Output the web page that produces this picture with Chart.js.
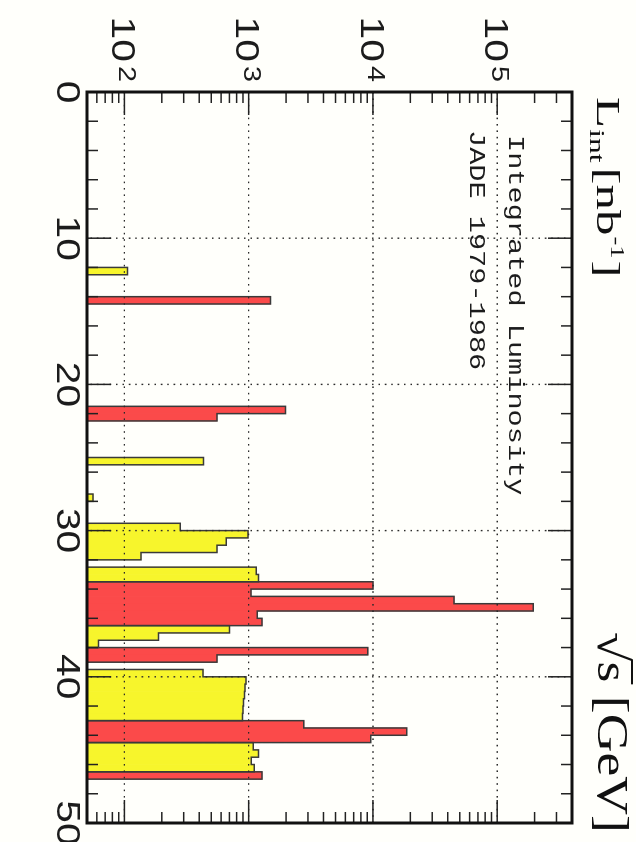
<!DOCTYPE html>
<html>
<head>
<meta charset="utf-8">
<script src="https://cdn.jsdelivr.net/npm/chart.js@4.4.1/dist/chart.umd.min.js"></script>
<style>
  html, body { margin: 0; padding: 0; background: #fffffb; overflow: hidden; }
  /* the histogram is drawn lying on its side: energy runs down the page */
  #turn { position: absolute; left: 0; top: 0; width: 842px; height: 636px;
          transform-origin: 0 0; transform: translate(636px, 0) rotate(90deg); }
</style>
</head>
<body>
<div id="turn"><canvas id="lumiChart" width="842" height="636"></canvas></div>
<script>
//lower edges of the 0.5 GeV energy bins [GeV] and the luminosity in each [nb^-1]
var binWidth = 0.5;
var yellowBins = [12.0, 25.0, 27.5, 29.5, 30.0, 30.5, 31.0, 31.5, 32.5, 33.0, 36.5, 37.0, 37.5,
                  39.5, 40.0, 40.5, 41.0, 41.5, 42.0, 42.5, 44.5, 45.0, 45.5, 46.0];
var yellowLumi = [106, 433, 56, 281, 990, 660, 555, 136, 1150, 1200, 700, 188, 62,
                  430, 950, 935, 925, 910, 900, 890, 1090, 1200, 1050, 1110];
var redBins = [14.0, 21.5, 22.0, 33.5, 34.0, 34.5, 35.0, 35.5, 36.0, 38.0, 38.5, 43.0, 43.5, 44.0, 46.5];
var redLumi = [1500, 1980, 555, 10000, 1045, 45000, 195000, 1170, 1280, 9100, 555, 2780, 18700, 9600, 1280];

//axis ranges and labels
var energyTicks = [0, 10, 20, 30, 40, 50];
var lumiDecades = [2, 3, 4, 5];
var lumiMin = 50;
var lumiMax = 4e5;
var yTitle = ['L', 'int', '[nb', '-1', ']'];
var xTitle = ['\u221A', 's', ' [GeV]'];
var noteLines = ['Integrated Luminosity', 'JADE 1979-1986'];

var yellowFill = '#f7f52c';
var redFill = '#fb4a4a';
var edgeColor = '#3a3a3a';

//bars sit at the middle of each bin
function barPoints(bins, lumi){
   return bins.map(function(b, i){
      return {x: b + binWidth / 2, y: lumi[i]};
   });
}

//step outline around every run of neighbouring bins
function outlinePoints(bins, lumi){
   var pts = [];
   for (var i = 0; i < bins.length; i++) {
      var lo = bins[i];
      var hi = lo + binWidth;
      if (i == 0 || Math.abs(bins[i - 1] + binWidth - lo) > 1e-6) {
         if (i > 0) pts.push({x: lo, y: null});
         pts.push({x: lo, y: lumiMin});
      }
      pts.push({x: lo, y: lumi[i]});
      pts.push({x: hi, y: lumi[i]});
      if (i == bins.length - 1 || Math.abs(bins[i + 1] - hi) > 1e-6) {
         pts.push({x: hi, y: lumiMin});
      }
   }
   return pts;
}

//text squeezed to the wide lettering of the plot, returns its width
function drawStretched(ctx, str, x, y, size, family, sx, align){
   ctx.save();
   ctx.font = size + 'px ' + family;
   var w = ctx.measureText(str).width * sx;
   if (align == 'center') x -= w / 2;
   if (align == 'right') x -= w;
   ctx.translate(x, y);
   ctx.scale(sx, 1);
   ctx.textAlign = 'left';
   ctx.textBaseline = 'alphabetic';
   ctx.fillText(str, 0, 0);
   ctx.restore();
   return w;
}

function line(ctx, x1, y1, x2, y2){
   ctx.beginPath();
   ctx.moveTo(x1, y1);
   ctx.lineTo(x2, y2);
   ctx.stroke();
}

var frameAndLabels = {
   id: 'frameAndLabels',
   afterDatasetsDraw: function(chart){
      var ctx = chart.ctx;
      var a = chart.chartArea;
      var xs = chart.scales.x;
      var ys = chart.scales.y;
      ctx.save();
      //dotted grid at every 10 GeV and every decade
      ctx.strokeStyle = '#2a2a2a';
      ctx.lineWidth = 1.4;
      ctx.setLineDash([1.6, 4.8]);
      energyTicks.forEach(function(e){
         if (e > xs.min && e < xs.max) {
            var px = xs.getPixelForValue(e);
            line(ctx, px, a.top, px, a.bottom);
         }
      });
      lumiDecades.forEach(function(d){
         var py = ys.getPixelForValue(Math.pow(10, d));
         line(ctx, a.left, py, a.right, py);
      });
      ctx.setLineDash([]);
      //inward tick marks on all four sides
      ctx.strokeStyle = '#222';
      ctx.lineWidth = 1.5;
      for (var e = 2; e < 50; e += 2) {
         var px = xs.getPixelForValue(e);
         var len = (e % 10 == 0) ? 24 : 11;
         line(ctx, px, a.bottom, px, a.bottom - len);
         line(ctx, px, a.top, px, a.top + len);
      }
      for (var d = 1; d <= 5; d++) {
         for (var m = 1; m <= 9; m++) {
            var v = m * Math.pow(10, d);
            if (v <= lumiMin || v >= lumiMax) continue;
            var py = ys.getPixelForValue(v);
            var tl = (m == 1) ? 23 : 11;
            line(ctx, a.left, py, a.left + tl, py);
            line(ctx, a.right, py, a.right - tl, py);
         }
      }
      //frame
      ctx.strokeStyle = '#111';
      ctx.lineWidth = 3;
      ctx.strokeRect(a.left, a.top, a.right - a.left, a.bottom - a.top);
      ctx.restore();
   },
   afterDraw: function(chart){
      var ctx = chart.ctx;
      var a = chart.chartArea;
      var xs = chart.scales.x;
      var ys = chart.scales.y;
      var sans = '"Liberation Sans", Arial, sans-serif';
      var serif = '"Liberation Serif", "Times New Roman", serif';
      var mono = '"Liberation Mono", "Courier New", monospace';
      ctx.save();
      ctx.fillStyle = '#1c1c1c';
      //energy tick labels
      energyTicks.forEach(function(e){
         drawStretched(ctx, String(e), xs.getPixelForValue(e), a.bottom + 6 + 0.72 * 34, 34, sans, 1.2, 'center');
      });
      //decade labels 10^n
      lumiDecades.forEach(function(d){
         var py = ys.getPixelForValue(Math.pow(10, d));
         ctx.font = '24px ' + sans;
         var wE = ctx.measureText(String(d)).width * 1.2;
         var right = a.left - 10;
         drawStretched(ctx, '10', right - wE - 4, py + 0.72 * 34 / 2, 34, sans, 1.2, 'right');
         drawStretched(ctx, String(d), right - wE, py - 0.72 * 34 / 2 + 0.72 * 24, 24, sans, 1.2, 'left');
      });
      ctx.fillStyle = '#111';
      //luminosity title
      var u = a.left + 5;
      u += drawStretched(ctx, yTitle[0], u, 39, 34, serif, 1.5, 'left');
      u += drawStretched(ctx, yTitle[1], u + 1, 46, 21, serif, 1.5, 'left') + 6;
      u += drawStretched(ctx, yTitle[2], u, 39, 34, serif, 1.5, 'left');
      u += drawStretched(ctx, yTitle[3], u + 1, 25, 19, serif, 1.4, 'left') + 3;
      drawStretched(ctx, yTitle[4], u, 39, 34, serif, 1.5, 'left');
      //energy title with the root sign carried over the s
      var g = 632;
      ctx.font = '44px ' + serif;
      var rootTop = 38 - ctx.measureText(xTitle[0]).actualBoundingBoxAscent;
      g += drawStretched(ctx, xTitle[0], g, 38, 44, serif, 1.22, 'left');
      var sw = drawStretched(ctx, xTitle[1], g, 38, 44, serif, 1.22, 'left');
      ctx.strokeStyle = '#111';
      ctx.lineWidth = 2;
      line(ctx, g - 2, rootTop + 1, g + sw + 2, rootTop + 1);
      g += sw;
      drawStretched(ctx, xTitle[2], g, 38, 44, serif, 1.22, 'left');
      //labels inside the frame
      ctx.fillStyle = '#1c1c1c';
      drawStretched(ctx, noteLines[0], 135, 127, 21.5, mono, 1.33, 'left');
      drawStretched(ctx, noteLines[1], 130, 166, 21.5, mono, 1.33, 'left');
      ctx.restore();
   }
};

var ctx = document.getElementById('lumiChart').getContext('2d');
var chart = new Chart(ctx, {
   type: 'bar',
   data: {
      datasets: [{
         type: 'line',
         data: outlinePoints(yellowBins, yellowLumi),
         borderColor: edgeColor,
         borderWidth: 1.5,
         pointRadius: 0,
         tension: 0,
         fill: false,
         spanGaps: false
      }, {
         type: 'line',
         data: outlinePoints(redBins, redLumi),
         borderColor: edgeColor,
         borderWidth: 1.5,
         pointRadius: 0,
         tension: 0,
         fill: false,
         spanGaps: false
      }, {
         data: barPoints(yellowBins, yellowLumi),
         backgroundColor: yellowFill,
         borderWidth: 0,
         barPercentage: 1,
         categoryPercentage: 1,
         grouped: false
      }, {
         data: barPoints(redBins, redLumi),
         backgroundColor: redFill,
         borderWidth: 0,
         barPercentage: 1,
         categoryPercentage: 1,
         grouped: false
      }]
   },
   options: {
      responsive: false,
      animation: false,
      layout: {padding: {left: 92, right: 19, top: 64, bottom: 87}},
      plugins: {legend: {display: false}, tooltip: {enabled: false}},
      scales: {
         x: {
            type: 'linear', min: 0, max: 50, offset: false,
            ticks: {display: false, stepSize: 10},
            grid: {display: false, drawTicks: false},
            border: {display: false}
         },
         y: {
            type: 'logarithmic', min: lumiMin, max: lumiMax,
            ticks: {display: false},
            grid: {display: false, drawTicks: false},
            border: {display: false}
         }
      }
   },
   plugins: [frameAndLabels]
});
</script>
</body>
</html>
